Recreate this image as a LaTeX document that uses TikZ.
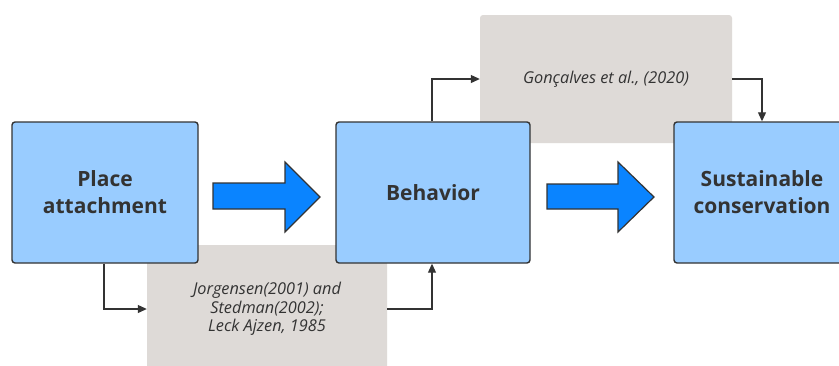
\documentclass[tikz,border=0pt]{standalone}
\usepackage{fontspec}
\setmainfont{Open Sans}
\usetikzlibrary{arrows.meta}
\definecolor{boxblue}{HTML}{99CCFF}
\definecolor{arrowblue}{HTML}{0A84FF}
\definecolor{refgray}{HTML}{DEDAD7}
\definecolor{ink}{HTML}{333333}
\tikzset{
  mainbox/.style={draw=ink, line width=1.4pt, fill=boxblue, rounded corners=3pt,
    minimum height=141pt, align=center, font=\fontsize{21}{27}\selectfont\bfseries, text=ink, inner sep=0pt},
  refbox/.style={fill=refgray, rounded corners=3pt, minimum height=128pt, align=center,
    font=\fontsize{16.3}{18.5}\selectfont\itshape, text=ink, inner sep=0pt},
  link/.style={draw=ink, line width=1.1pt, -{Triangle[length=9pt,width=8pt]}},
  blockarrow/.style={draw=ink, line width=1.2pt, fill=arrowblue, line join=miter}
}
\begin{document}
\begin{tikzpicture}[x=1pt,y=-1pt]
\useasboundingbox (0,0) rectangle (839,365);
\clip (0,0) rectangle (839,365);
\fill[white] (0,0) rectangle (839,365);
% reference boxes
\node[refbox, minimum width=240pt] (r1) at (267,309) {Jorgensen(2001) and\\Stedman(2002);\\Leck Ajzen, 1985};
\node[refbox, minimum width=252pt] (r2) at (606,79) {Gonçalves et al., (2020)};
% main boxes
\node[mainbox, minimum width=186pt] (pa) at (105,192.5) {Place\\attachment};
\node[mainbox, minimum width=194pt] (be) at (433,192.5) {Behavior};
\node[mainbox, minimum width=176pt] (sc) at (762,192.5) {Sustainable\\conservation};
% block arrows
\draw[blockarrow] (213,183) -- (285,183) -- (285,162) -- (320,197) -- (285,232) -- (285,209) -- (213,209) -- cycle;
\draw[blockarrow] (547,184) -- (618,184) -- (618,162) -- (654,197) -- (618,232) -- (618,209) -- (547,209) -- cycle;
% connectors
\draw[link] (pa.south -| 104,0) |- (r1.west);
\draw[link] (r1.east) -| (be.south -| 432,0);
\draw[link] (be.north -| 432,0) |- (r2.west);
\draw[link] (r2.east) -| (sc.north -| 762,0);
\end{tikzpicture}
\end{document}
